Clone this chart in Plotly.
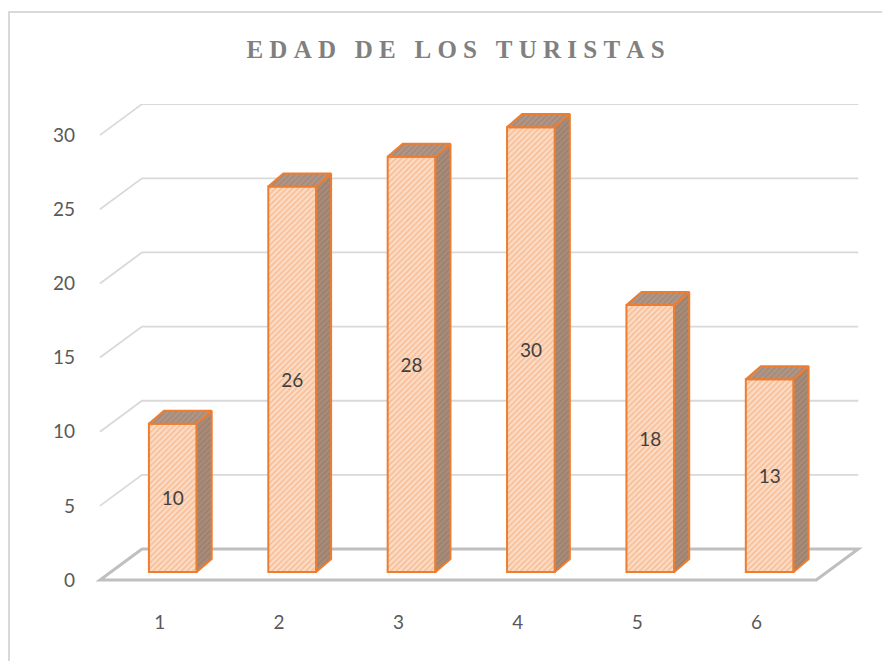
import plotly.graph_objects as go

# ---- data ----
categories = ["1", "2", "3", "4", "5", "6"]
values = [10, 26, 28, 30, 18, 13]
y_ticks = [0, 5, 10, 15, 20, 25, 30]
title_text = "EDAD DE LOS TURISTAS"

# ---- pseudo-3D geometry (axis units) ----
BACK_DX, BACK_DY = 0.352, 2.09      # offset of back wall relative to front plane
BAR_SHIFT_X, BAR_BASE = 0.11, 0.54  # bars sit slightly behind the front plane
BAR_W = 0.40
DEPTH_DX, DEPTH_DY = 0.126, 0.88    # bar depth

ORANGE = "#ed7d31"
GRID = "#d9d9d9"
FLOOR = "#bfbfbf"

xpos = [i + 1 for i in range(len(categories))]
x_left = xpos[0] - 0.5
x_right = xpos[-1] + 0.5

fig = go.Figure()

# front faces
fig.add_trace(go.Bar(
    x=[p + BAR_SHIFT_X for p in xpos],
    y=values,
    base=BAR_BASE,
    width=BAR_W,
    marker=dict(
        color="#fbd3b8",
        pattern=dict(shape="/", fgcolor="#f29d62", bgcolor="#fcdcc6", size=4, solidity=0.4),
        line=dict(color=ORANGE, width=2),
    ),
    text=[str(v) for v in values],
    textposition="inside",
    insidetextanchor="middle",
    textangle=0,
    textfont=dict(family="Lato, sans-serif", size=19, color="#404040"),
    hoverinfo="skip",
    showlegend=False,
))

# side and top faces
for p, v in zip(xpos, values):
    xl = p + BAR_SHIFT_X - BAR_W / 2
    xr = p + BAR_SHIFT_X + BAR_W / 2
    b = BAR_BASE
    t = BAR_BASE + v
    # side
    fig.add_trace(go.Scatter(
        x=[xr, xr + DEPTH_DX, xr + DEPTH_DX, xr, xr],
        y=[b, b + DEPTH_DY, t + DEPTH_DY, t, b],
        mode="lines", fill="toself",
        line=dict(color=ORANGE, width=2),
        fillcolor="#a38b7b",
        fillpattern=dict(shape="/", fgcolor="#8c6e5c", bgcolor="#a88c7a", size=4, solidity=0.35),
        hoverinfo="skip", showlegend=False,
    ))
    # top
    fig.add_trace(go.Scatter(
        x=[xl, xr, xr + DEPTH_DX, xl + DEPTH_DX, xl],
        y=[t, t, t + DEPTH_DY, t + DEPTH_DY, t],
        mode="lines", fill="toself",
        line=dict(color=ORANGE, width=2),
        fillcolor="#ad9383",
        fillpattern=dict(shape="/", fgcolor="#93786a", bgcolor="#b09686", size=4, solidity=0.35),
        hoverinfo="skip", showlegend=False,
    ))

shapes = []
# back wall gridlines with left side wall diagonal
for v in y_ticks[1:]:
    shapes.append(dict(
        type="path", xref="x", yref="y", layer="below",
        path=f"M {x_left},{v} L {x_left + BACK_DX},{v + BACK_DY} L {x_right + BACK_DX},{v + BACK_DY}",
        line=dict(color=GRID, width=1.8),
    ))
# floor
v0 = y_ticks[0]
shapes.append(dict(
    type="path", xref="x", yref="y", layer="below",
    path=(f"M {x_left},{v0} L {x_right},{v0} L {x_right + BACK_DX},{v0 + BACK_DY} "
          f"L {x_left + BACK_DX},{v0 + BACK_DY} Z"),
    line=dict(color=FLOOR, width=3),
))
# chart border
shapes.append(dict(
    type="rect", xref="paper", yref="paper", layer="below",
    x0=-0.1104, x1=1.08, y0=-0.22, y1=1.192,
    line=dict(color=GRID, width=2), fillcolor="rgba(0,0,0,0)",
))

spaced_title = "\u2005".join(list(title_text))

fig.update_layout(
    width=890, height=661,
    margin=dict(l=86, r=34, t=96, b=86),
    paper_bgcolor="white", plot_bgcolor="white",
    title=dict(
        text=spaced_title,
        x=0.5028, xref="container", xanchor="center",
        y=0.938, yref="container", yanchor="middle",
        font=dict(family="Liberation Serif, Times New Roman, serif", size=25, color="#808080", weight="bold"),
    ),
    shapes=shapes,
    showlegend=False,
)
fig.update_xaxes(
    range=[x_left - 0.05, x_right + BACK_DX + 0.048],
    tickvals=xpos, ticktext=categories,
    showgrid=False, zeroline=False, showline=False, ticks="",
    ticklabelstandoff=26,
    tickfont=dict(family="Lato, sans-serif", size=19, color="#595959"),
    fixedrange=True,
)
fig.update_yaxes(
    range=[-0.2, 32.1],
    tickvals=y_ticks,
    showgrid=False, zeroline=False, showline=False, ticks="",
    ticklabelstandoff=18,
    tickfont=dict(family="Lato, sans-serif", size=19, color="#595959"),
    fixedrange=True,
)

fig.write_html("out.html")
